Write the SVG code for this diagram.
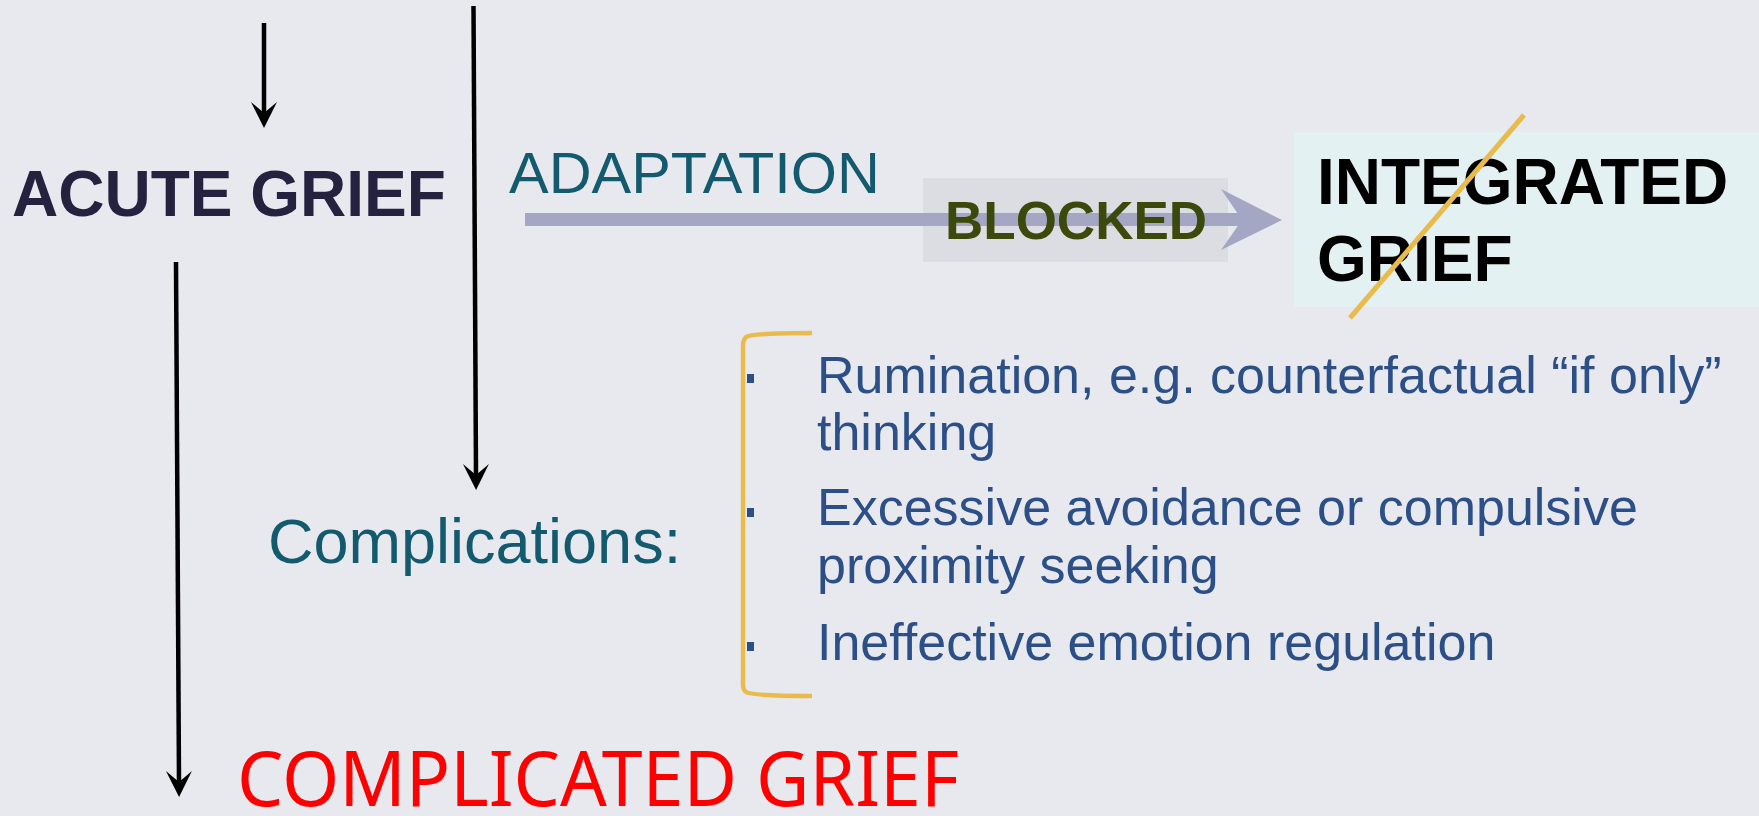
<svg xmlns="http://www.w3.org/2000/svg" width="1759" height="816" viewBox="0 0 1759 816">
  <style>
    .ar { font-family: "Liberation Sans", Arial, sans-serif; }
    .b { font-weight: bold; }
    .conn { stroke: #000; stroke-width: 4.5; fill: none; }
    .teal { fill: #145a6f; }
    .item { fill: #2b4f86; font-size: 52px; }
    .bullet { fill: #2b4f86; }
  </style>
  <defs>
    <marker id="ah" viewBox="-12 -14 28 28" refX="0" refY="0" markerWidth="28" markerHeight="28" markerUnits="userSpaceOnUse" orient="auto">
      <path d="M15,0 L-11,-13 L0,0 L-11,13 Z" fill="#000"/>
    </marker>
  </defs>
  <rect x="0" y="0" width="1759" height="816" fill="#e8e9ee"/>

  <g id="connectors">
    <line class="conn" x1="264" y1="23" x2="264" y2="113" marker-end="url(#ah)"/>
    <line class="conn" x1="473.5" y1="6" x2="476" y2="475" marker-end="url(#ah)"/>
    <line class="conn" x1="176" y1="262" x2="179" y2="782" marker-end="url(#ah)"/>
  </g>

  <g id="acute-grief">
    <text class="ar b" x="12" y="216" font-size="64" fill="#25223f">ACUTE GRIEF</text>
  </g>

  <g id="adaptation">
    <rect x="923" y="178" width="305" height="84" fill="#dcdde2"/>
    <rect x="525" y="213" width="720" height="13" fill="#a4a7c4"/>
    <path d="M1221,189 L1282,220 L1221,250 L1242,220 Z" fill="#a4a7c4"/>
    <text class="ar teal" x="509" y="193" font-size="58" textLength="371" lengthAdjust="spacingAndGlyphs">ADAPTATION</text>
    <text class="ar b" x="945" y="239" font-size="53" fill="#3b4a0c">BLOCKED</text>
  </g>

  <g id="integrated-grief">
    <rect x="1294" y="132" width="465" height="175" fill="#e3f1f2"/>
    <text class="ar b" x="1317" y="204" font-size="64" fill="#000">INTEGRATED</text>
    <text class="ar b" x="1317" y="281" font-size="64" fill="#000">GRIEF</text>
    <line x1="1524" y1="115" x2="1350" y2="318" stroke="#e8bb4b" stroke-width="5"/>
  </g>

  <g id="complications">
    <text class="ar teal" x="268" y="563" font-size="63">Complications:</text>
  </g>

  <g id="complication-list">
    <path d="M812,333 Q752,333 746,337 Q743,340 743,346 L743,684 Q743,690 746,692 Q752,696 812,696" fill="none" stroke="#e8bb4b" stroke-width="4.5"/>
    <rect class="bullet" x="747" y="374" width="7" height="9"/>
    <rect class="bullet" x="747" y="508" width="7" height="9"/>
    <rect class="bullet" x="747" y="642" width="7" height="9"/>
    <text class="ar item" x="817" y="393">Rumination, e.g. counterfactual “if only”</text>
    <text class="ar item" x="817" y="450">thinking</text>
    <text class="ar item" x="817" y="525">Excessive avoidance or compulsive</text>
    <text class="ar item" x="817" y="583">proximity seeking</text>
    <text class="ar item" x="817" y="660">Ineffective emotion regulation</text>
  </g>

  <g id="complicated-grief">
    <text x="237" y="806" font-family="'Noto Sans', 'Open Sans', sans-serif" font-size="76" fill="#ff0000" textLength="722" lengthAdjust="spacingAndGlyphs">COMPLICATED GRIEF</text>
  </g>
</svg>
